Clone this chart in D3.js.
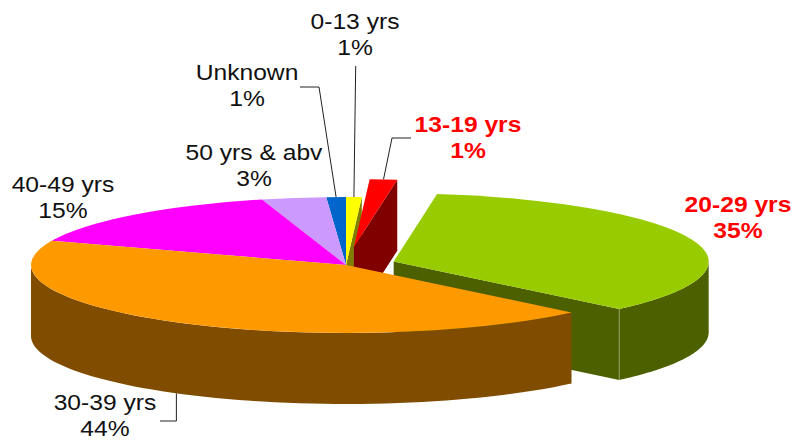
<!DOCTYPE html>
<meta charset="utf-8">
<style>
    body { margin: 0; background: #fff; }
    text { font-family: "Liberation Sans", Arial, sans-serif; font-size: 22px; }
</style>
<script src="https://d3js.org/d3.v7.min.js"></script>
<div id="chart"></div>
<script>
    // age groups, clockwise from 12 o'clock
    const categories = ["0-13 yrs", "13-19 yrs", "20-29 yrs", "30-39 yrs", "40-49 yrs", "50 yrs & abv", "Unknown"];
    // shares (slice angles), printed labels are rounded
    const shares = [0.8, 1.4, 35.1, 43.5, 14.9, 3.3, 1.0];
    const percentLabels = ["1%", "1%", "35%", "44%", "15%", "3%", "1%"];

    const topColors = ["#ffff00", "#ff0000", "#99cc00", "#ff9900", "#ff00ff", "#cc99ff", "#0066cc"];
    const sideColors = ["#808000", "#800000", "#4d6000", "#804d00", "#800080", "#664d80", "#003366"];
    const explode = [0, 0.265, 0.16, 0, 0, 0, 0];
    const drawOrder = [0, 1, 2, 6, 5, 4, 3];

    // label placement: centre x, first baseline, red bold or not
    const labelPlace = [
        { x: 355, y: 29, hot: false },
        { x: 468, y: 132, hot: true },
        { x: 738, y: 212, hot: true },
        { x: 105, y: 410, hot: false },
        { x: 63, y: 192, hot: false },
        { x: 254, y: 160, hot: false },
        { x: 247, y: 80, hot: false }
    ];

    const width = 792, height = 441;
    const cx = 346, cy = 265, rx = 315, ry = 68, depth = 71;

    const svg = d3.select("#chart").append("svg")
        .attr("width", width)
        .attr("height", height);

    const arcs = d3.pie().sort(null).value(d => d)(shares);
    const arc = d3.arc().innerRadius(0).outerRadius(rx);
    const line = d3.line();

    function centre(i) {
        const mid = (arcs[i].startAngle + arcs[i].endAngle) / 2;
        return [cx + rx * explode[i] * Math.sin(mid), cy - ry * explode[i] * Math.cos(mid)];
    }
    function rim(c, a, drop) {
        return [c[0] + rx * Math.sin(a), c[1] - ry * Math.cos(a) + (drop || 0)];
    }

    const pies = svg.append("g");
    drawOrder.forEach(i => {
        const d = arcs[i], c = centre(i), g = pies.append("g");

        // cut face that looks towards the viewer
        if (d.endAngle < Math.PI) {
            const a = d.endAngle;
            g.append("path")
                .attr("fill", sideColors[i])
                .attr("d", line([c, rim(c, a), rim(c, a, depth), [c[0], c[1] + depth]]) + "Z");
        }
        // outer wall, only the front half of the ellipse shows
        const a0 = Math.max(d.startAngle, Math.PI / 2), a1 = Math.min(d.endAngle, Math.PI * 1.5);
        if (a1 > a0) {
            const steps = d3.range(0, 61).map(k => a0 + (a1 - a0) * k / 60);
            const pts = steps.map(a => rim(c, a)).concat(steps.slice().reverse().map(a => rim(c, a, depth)));
            g.append("path").attr("fill", sideColors[i]).attr("d", line(pts) + "Z");
            if (d.endAngle < Math.PI) {
                g.append("path")
                    .attr("stroke", "#fff")
                    .attr("stroke-opacity", 0.3)
                    .attr("d", line([rim(c, a1), rim(c, a1, depth)]));
            }
        }
        // top
        g.append("path")
            .attr("fill", topColors[i])
            .attr("transform", `translate(${c[0]},${c[1]}) scale(1,${ry / rx})`)
            .attr("d", arc(d));
    });

    // leader lines, ending on the middle of their slice
    function midRim(i, drop) {
        return rim(centre(i), (arcs[i].startAngle + arcs[i].endAngle) / 2, drop);
    }
    const leaders = [
        [[355.7, 66], midRim(0)],
        [[411, 138], [392, 138], midRim(1)],
        [midRim(3, depth), [midRim(3, depth)[0], 421], [160, 421]],
        [[300, 87], [319, 87], midRim(6)]
    ];
    svg.append("g").selectAll("path").data(leaders).join("path")
        .attr("fill", "none")
        .attr("stroke", "#222")
        .attr("stroke-width", 1)
        .attr("d", d => line(d));

    // labels are a little wider than the font, so stretch them
    const labels = svg.append("g").selectAll("g").data(categories).join("g")
        .attr("transform", (d, i) => `translate(${labelPlace[i].x},${labelPlace[i].y}) scale(1.12,1)`)
        .attr("text-anchor", "middle")
        .attr("fill", (d, i) => labelPlace[i].hot ? "#ff0000" : "#111")
        .attr("font-weight", (d, i) => labelPlace[i].hot ? 700 : 400);
    labels.append("text").text(d => d);
    labels.append("text").attr("y", 26).text((d, i) => percentLabels[i]);
</script>
